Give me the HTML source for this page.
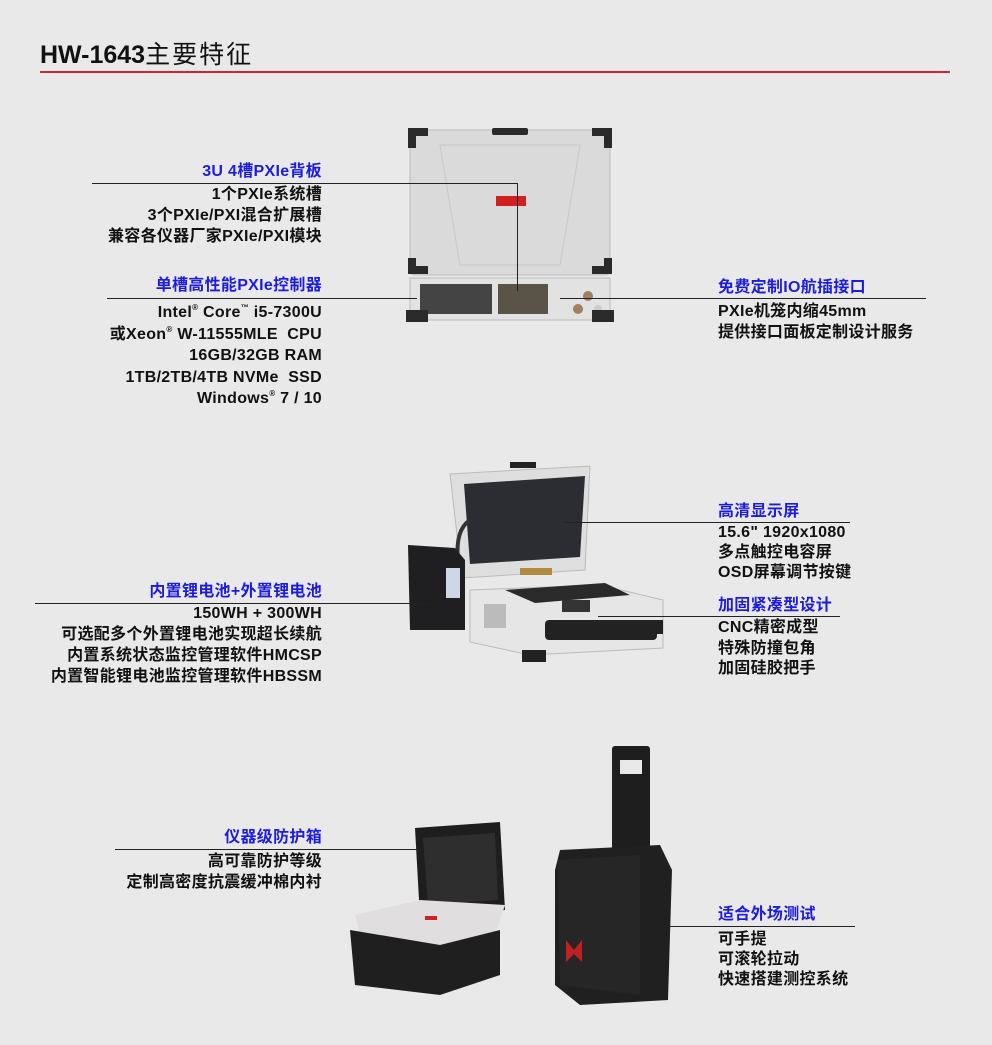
<!DOCTYPE html>
<html><head><meta charset="utf-8"><style>
body{margin:0;width:992px;height:1045px;background:#e9e9e9;position:relative;overflow:hidden;font-family:"Liberation Sans","Noto Sans CJK SC",sans-serif;}
.t{position:absolute;font-size:16px;font-weight:bold;color:#111;letter-spacing:0.3px;line-height:21px;white-space:nowrap}
.r{text-align:right}
.b{color:#1c1ce0}
.ln{position:absolute;height:1px;background:#222}
.vl{position:absolute;width:1px;background:#222}
sup{font-size:8px;vertical-align:7px;line-height:0}
</style></head><body>
<div style="position:absolute;left:40px;top:35px;font-size:25px;font-weight:bold;color:#111;">HW-1643<span style="font-weight:normal;letter-spacing:2px">主要特征</span></div>
<div style="position:absolute;left:40px;top:71px;width:910px;height:2px;background:#d0282a"></div>

<svg width="992" height="1045" style="position:absolute;left:0;top:0">
<rect x="410" y="130" width="200" height="145" rx="4" fill="#dadada" stroke="#bbb"/>
<path d="M440 145 L580 145 L560 265 L460 265Z" fill="none" stroke="#c8c8c8"/>
<rect x="496" y="196" width="30" height="10" fill="#d02020"/>
<rect x="410" y="278" width="200" height="42" fill="#e2e2e2" stroke="#bbb"/>
<rect x="420" y="284" width="72" height="30" fill="#444"/>
<rect x="498" y="284" width="50" height="30" fill="#5a5448"/>
<circle cx="588" cy="296" r="5" fill="#a08060"/><circle cx="578" cy="309" r="5" fill="#a08060"/><circle cx="598" cy="309" r="4" fill="#ccc"/>
<path d="M408 128h20v8h-12v12h-8z" fill="#2a2a2a"/><path d="M612 128h-20v8h12v12h8z" fill="#2a2a2a"/>
<path d="M408 258v16h20v-8h-12v-8z" fill="#2a2a2a"/><path d="M612 258v16h-20v-8h12v-8z" fill="#2a2a2a"/>
<rect x="492" y="128" width="36" height="7" rx="2" fill="#2a2a2a"/>
<rect x="406" y="310" width="22" height="12" fill="#2a2a2a"/><rect x="592" y="310" width="22" height="12" fill="#2a2a2a"/>
<polygon points="450,474 590,466 585,570 462,578" fill="#dedede" stroke="#bbb"/>
<polygon points="464,484 585,476 580,557 470,564" fill="#2b2d33"/>
<rect x="520" y="568" width="32" height="7" fill="#b08a40"/>
<polygon points="470,590 600,585 663,600 663,648 530,655 470,642" fill="#e6e6e6" stroke="#bbb"/>
<polygon points="505,590 605,583 630,595 535,603" fill="#2a2a2a"/>
<rect x="562" y="600" width="28" height="12" fill="#333"/>
<rect x="545" y="620" width="112" height="20" rx="4" fill="#222"/>
<rect x="522" y="650" width="24" height="12" fill="#222"/><rect x="645" y="620" width="18" height="14" fill="#222"/>
<rect x="484" y="604" width="22" height="24" fill="#bbb"/>
<rect x="510" y="462" width="26" height="6" fill="#222"/>
<path d="M470 520 Q455 530 458 560" stroke="#333" stroke-width="4" fill="none"/>
<polygon points="408,545 455,548 465,560 465,630 410,630" fill="#1f1f22"/>
<rect x="446" y="568" width="14" height="30" fill="#cfd6e6"/>
<polygon points="415,828 500,822 505,910 420,918" fill="#1e1e1e"/>
<polygon points="423,838 495,833 498,900 428,905" fill="#2e2e2e"/>
<polygon points="355,915 420,900 505,905 495,935 440,950 360,935" fill="#e0dede"/>
<rect x="425" y="916" width="12" height="4" fill="#d02020"/>
<polygon points="350,930 440,945 500,930 500,975 440,995 355,985" fill="#1f1f1f"/>
<rect x="612" y="746" width="38" height="112" rx="3" fill="#1e1e1e"/>
<rect x="620" y="760" width="22" height="14" fill="#e9e9e9"/>
<polygon points="560,850 660,845 672,870 668,1000 580,1005 555,985 555,870" fill="#202020"/>
<polygon points="558,860 640,855 640,995 560,985" fill="#262626"/>
<path d="M566 940l8 10 8-10v22l-8-8-8 8z" fill="#c02020"/>
</svg>

<div class="ln" style="left:92px;top:183px;width:426px"></div>
<div class="vl" style="left:517px;top:183px;height:108px"></div>
<div class="ln" style="left:107px;top:298px;width:310px"></div>
<div class="ln" style="left:560px;top:298px;width:366px"></div>
<div class="ln" style="left:565px;top:522px;width:285px"></div>
<div class="ln" style="left:598px;top:616px;width:242px"></div>
<div class="ln" style="left:35px;top:603px;width:395px"></div>
<div class="ln" style="left:115px;top:849px;width:305px"></div>
<div class="ln" style="left:665px;top:926px;width:190px"></div>

<div class="t r" style="right:670px;top:161px"><span class="b">3U 4槽PXIe背板</span></div>
<div class="t r" style="right:670px;top:184px">1个PXIe系统槽<br>3个PXIe/PXI混合扩展槽<br>兼容各仪器厂家PXIe/PXI模块</div>
<div class="t r" style="right:670px;top:275px"><span class="b">单槽高性能PXIe控制器</span></div>
<div class="t r" style="right:670px;top:302px;line-height:21.5px">Intel<sup>®</sup> Core<sup>™</sup> i5-7300U<br>或Xeon<sup>®</sup> W-11555MLE&nbsp; CPU<br>16GB/32GB RAM<br>1TB/2TB/4TB NVMe&nbsp; SSD<br>Windows<sup>®</sup> 7 / 10</div>
<div class="t r" style="right:670px;top:581px"><span class="b">内置锂电池+外置锂电池</span></div>
<div class="t r" style="right:670px;top:603px">150WH + 300WH<br>可选配多个外置锂电池实现超长续航<br>内置系统状态监控管理软件HMCSP<br>内置智能锂电池监控管理软件HBSSM</div>
<div class="t r" style="right:670px;top:827px"><span class="b">仪器级防护箱</span></div>
<div class="t r" style="right:670px;top:851px">高可靠防护等级<br>定制高密度抗震缓冲棉内衬</div>

<div class="t" style="left:718px;top:277px"><span class="b">免费定制IO航插接口</span></div>
<div class="t" style="left:718px;top:301px">PXIe机笼内缩45mm<br>提供接口面板定制设计服务</div>
<div class="t" style="left:718px;top:501px"><span class="b">高清显示屏</span></div>
<div class="t" style="left:718px;top:523px;line-height:20px">15.6" 1920x1080<br>多点触控电容屏<br>OSD屏幕调节按键</div>
<div class="t" style="left:718px;top:595px"><span class="b">加固紧凑型设计</span></div>
<div class="t" style="left:718px;top:618px;line-height:20.5px">CNC精密成型<br>特殊防撞包角<br>加固硅胶把手</div>
<div class="t" style="left:718px;top:904px"><span class="b">适合外场测试</span></div>
<div class="t" style="left:718px;top:930px;line-height:20px">可手提<br>可滚轮拉动<br>快速搭建测控系统</div>
</body></html>
